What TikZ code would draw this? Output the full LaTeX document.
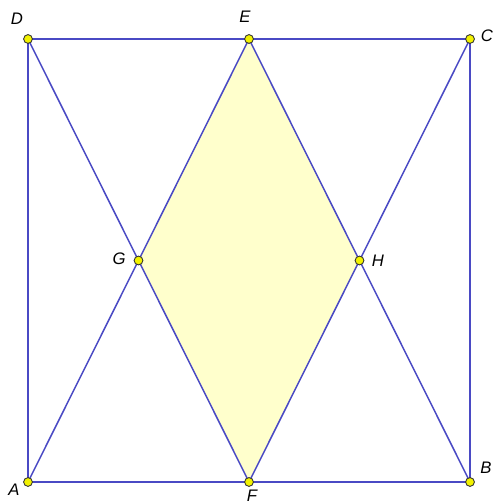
\documentclass[tikz,border=0pt]{standalone}
\usepackage{fontspec}
\setmainfont{Liberation Sans}
\usetikzlibrary{positioning}
\definecolor{sqblue}{HTML}{4A4AC4}
\definecolor{rhfill}{HTML}{FFFFCC}
\definecolor{ptyellow}{HTML}{F2F200}

\begin{document}
\begin{tikzpicture}[x=0.02cm, y=0.02cm,
    seg/.style={draw=sqblue, line width=0.85pt},
    pt/.style={circle, draw=black!80, fill=ptyellow, line width=0.5pt, inner sep=0pt, minimum size=5pt},
    lbl/.style={font=\fontsize{9.5}{11}\selectfont\itshape, inner sep=0pt}
  ]
    \useasboundingbox (0,0) rectangle (494,503);
    % vertices
    \coordinate (A) at (28,21);
    \coordinate (B) at (470,21);
    \coordinate (C) at (470,464);
    \coordinate (D) at (28,464);
    \coordinate (E) at (249,464);
    \coordinate (F) at (249,21);
    \coordinate (G) at (138.5,242.5);
    \coordinate (H) at (359.5,242.5);
    \fill[rhfill] (E) -- (G) -- (F) -- (H) -- cycle;
    \draw[seg] (A) -- (B) -- (C) -- (D) -- cycle;
    \draw[seg] (D) -- (F) -- (C);
    \draw[seg] (A) -- (E) -- (B);
    \foreach \p in {A,B,C,D,E,F,G,H}
      \node[pt] (p\p) at (\p) {};
    % labels
    \node[lbl] (lA) at (14,13) {A};
    \node[lbl] (lB) at (486,35) {B};
    \node[lbl] (lC) at (487,467) {C};
    \node[lbl] (lD) at (17,484) {D};
    \node[lbl] (lE) at (245,486) {E};
    \node[lbl] (lF) at (252,7) {F};
    \node[lbl] (lG) at (119,244) {G};
    \node[lbl] (lH) at (378,242) {H};
  \end{tikzpicture}
\end{document}
